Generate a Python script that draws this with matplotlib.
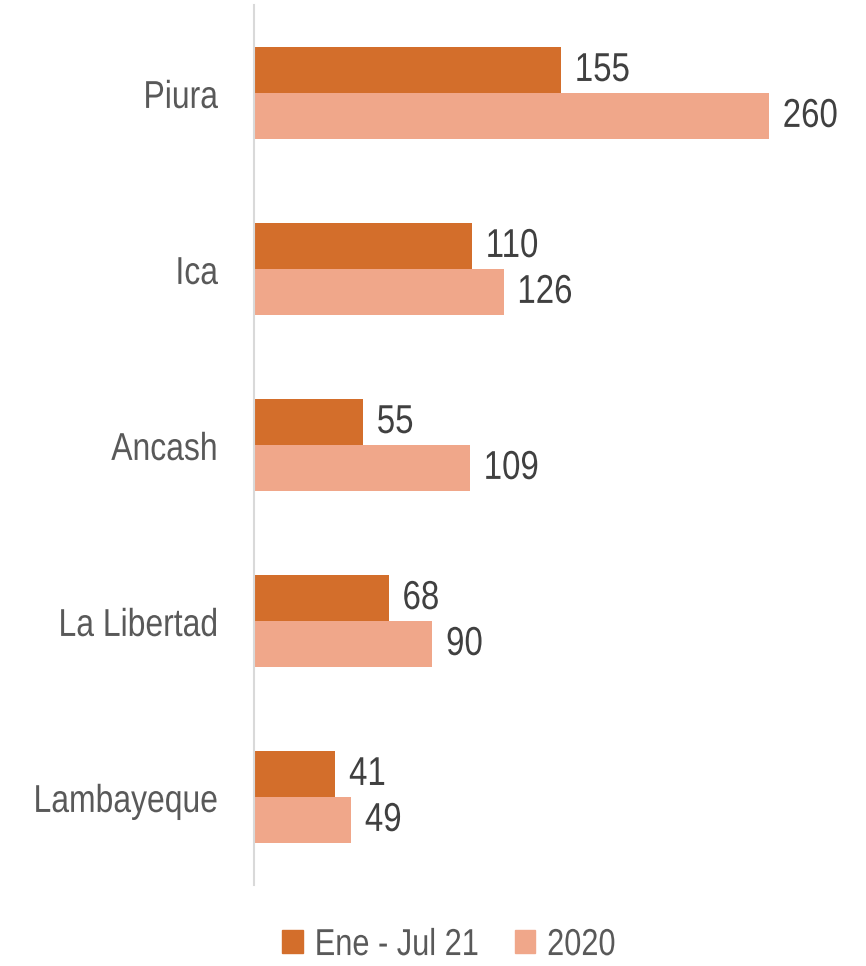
import numpy as np
import matplotlib
matplotlib.use("Agg")
import matplotlib.pyplot as plt
from matplotlib.patches import Patch
from matplotlib.patheffects import AbstractPathEffect
from matplotlib.transforms import Affine2D

regiones = ["Piura", "Ica", "Ancash", "La Libertad", "Lambayeque"]
ene_jul21 = [155, 110, 55, 68, 41]
anio2020 = [260, 126, 109, 90, 49]
series = ["Ene - Jul 21", "2020"]

plt.rcParams['font.family'] = ['Liberation Sans', 'DejaVu Sans']


class Narrow(AbstractPathEffect):
    # squeeze glyphs horizontally to mimic Arial Narrow
    def __init__(self, sx=0.82, sy=1.0, anchor="left", dy=0.0):
        super().__init__()
        self.sx = sx
        self.sy = sy
        self.anchor = anchor
        self.dy = dy

    def draw_path(self, renderer, gc, tpath, affine, rgbFace=None):
        x0 = 0.0
        if self.anchor == "right":
            x0 = tpath.get_extents().x1
        t = Affine2D().translate(-x0, 0).scale(self.sx, self.sy).translate(x0, 0) + affine
        t = t + Affine2D().translate(0, self.dy)
        renderer.draw_path(gc, tpath, t, rgbFace)


c1 = "#D36E2B"
c2 = "#F0A78A"
txt = "#404040"
gris = "#595959"

fig = plt.figure(figsize=(8.66, 9.66), dpi=100)
ax = fig.add_axes([0.2933, 0.0839, 0.686, 0.911])

y = np.arange(len(regiones))
h = 0.261
ax.barh(y - h/2, ene_jul21, height=h, color=c1)
ax.barh(y + h/2, anio2020, height=h, color=c2)

for i in range(len(regiones)):
    ax.text(ene_jul21[i] + 7, y[i] - h/2, str(ene_jul21[i]), va="center", ha="left",
            fontsize=29, color=txt, path_effects=[Narrow()])
    ax.text(anio2020[i] + 7, y[i] + h/2, str(anio2020[i]), va="center", ha="left",
            fontsize=29, color=txt, path_effects=[Narrow()])

ax.set_xlim(0, 300)
ax.set_ylim(4.5, -0.5)
ax.set_yticks(y)
ax.set_yticklabels(regiones, fontsize=24, color=gris)
for lab in ax.get_yticklabels():
    lab.set_path_effects([Narrow(sx=0.82 * 28 / 24, sy=28 / 24, anchor="right", dy=-3)])
ax.tick_params(axis="y", length=0, pad=26)
ax.set_xticks([])
for s in ["top", "right", "bottom"]:
    ax.spines[s].set_visible(False)
ax.spines["left"].set_color("#D9D9D9")
ax.spines["left"].set_linewidth(1.5)

handles = [Patch(color=c1), Patch(color=c2)]
leg = fig.legend(handles, series, loc="center", bbox_to_anchor=(0.527, 0.0217), ncol=2, frameon=False,
                 fontsize=27, labelcolor=gris, handlelength=0.55, handleheight=0.55,
                 handletextpad=0.32, columnspacing=0.0)
for t in leg.get_texts():
    t.set_path_effects([Narrow()])

fig.savefig("out.png", dpi=100)
